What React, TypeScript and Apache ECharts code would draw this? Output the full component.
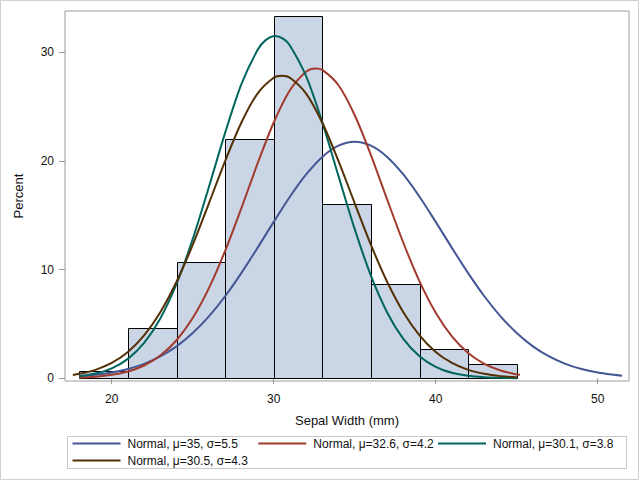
import React, { useEffect, useRef } from "react";
import * as echarts from "echarts";

const binStarts = [18, 21, 24, 27, 30, 33, 36, 39, 42];
const binWidth = 3;
const binPercents = [0.67, 4.67, 10.67, 22.0, 33.33, 16.0, 8.67, 2.67, 1.33];

const xTicks = [20, 30, 40, 50];
const yTicks = [0, 10, 20, 30];

const names = [
  "Normal, μ=35, σ=5.5",
  "Normal, μ=32.6, σ=4.2",
  "Normal, μ=30.1, σ=3.8",
  "Normal, μ=30.5, σ=4.3",
];
const colors = ["#445694", "#A23A2E", "#01665E", "#543005"];

const blueX = [18, 19, 20, 21, 22, 23, 24, 25, 26, 27, 28, 29, 30, 31, 32, 33, 34, 35, 36, 37, 38, 39, 40, 41, 42, 43, 44, 45, 46, 47, 48, 49, 50, 51, 51.5];
const blueY = [0.18, 0.32, 0.53, 0.85, 1.33, 2.01, 2.94, 4.17, 5.7, 7.55, 9.68, 12.0, 14.39, 16.7, 18.75, 20.37, 21.4, 21.76, 21.4, 20.37, 18.75, 16.7, 14.39, 12.0, 9.68, 7.55, 5.7, 4.17, 2.94, 2.01, 1.33, 0.85, 0.53, 0.32, 0.24];

const redX = [18, 19, 20, 21, 22, 23, 24, 25, 26, 27, 28, 29, 30, 31, 32, 32.6, 33, 34, 35, 36, 37, 38, 39, 40, 41, 42, 43, 44, 45, 45.2];
const redY = [0.07, 0.15, 0.32, 0.63, 1.18, 2.09, 3.5, 5.54, 8.29, 11.72, 15.64, 19.74, 23.53, 26.5, 28.21, 28.5, 28.37, 26.96, 24.2, 20.54, 16.46, 12.47, 8.92, 6.04, 3.86, 2.33, 1.33, 0.72, 0.36, 0.32];

const greenX = [18, 19, 20, 21, 22, 23, 24, 25, 26, 27, 28, 29, 29.5, 30.1, 30.6, 31, 32, 33, 34, 35, 36, 37, 38, 39, 40, 41, 42, 43, 44, 45];
const greenY = [0.2, 0.44, 0.92, 1.79, 3.25, 5.5, 8.68, 12.8, 17.6, 22.58, 27.04, 30.2, 31.11, 31.5, 31.23, 30.62, 27.79, 23.54, 18.6, 13.72, 9.44, 6.06, 3.63, 2.03, 1.06, 0.51, 0.23, 0.1, 0.04, 0.01];

const brownX = [17.6, 18, 19, 20, 21, 22, 23, 24, 25, 26, 27, 28, 29, 30, 30.5, 31, 32, 33, 34, 35, 36, 37, 38, 39, 40, 41, 42, 43, 44, 45];
const brownY = [0.31, 0.41, 0.78, 1.41, 2.42, 3.95, 6.08, 8.88, 12.28, 16.1, 19.98, 23.51, 26.19, 27.65, 27.83, 27.65, 26.19, 23.51, 19.98, 16.1, 12.28, 8.88, 6.08, 3.95, 2.42, 1.41, 0.78, 0.41, 0.2, 0.09];

const curveXs = [blueX, redX, greenX, brownX];
const curveYs = [blueY, redY, greenY, brownY];

const FONT = "'Liberation Sans', Arial, sans-serif";

export default function App() {
  const ref = useRef<HTMLDivElement>(null);
  useEffect(() => {
    if (!ref.current) return;
    const chart = echarts.init(ref.current, undefined, { renderer: "svg" });
    const legendTextWidths = [126.8, 120.7, undefined, undefined];
    const option: any = {
      animation: false,
      backgroundColor: "#ffffff",
      textStyle: { fontFamily: FONT },
      grid: {
        left: 65,
        right: 11,
        top: 11,
        bottom: 112,
        show: true,
        borderColor: "#9a9a9a",
        borderWidth: 1,
        backgroundColor: "transparent",
      },
      xAxis: {
        type: "value",
        min: 17.117,
        max: 51.93,
        name: "Sepal Width (mm)",
        nameLocation: "middle",
        nameGap: 33,
        nameTextStyle: { fontSize: 13, color: "#111", fontFamily: FONT },
        axisLine: { show: false },
        axisTick: { show: true, length: 6, lineStyle: { color: "#9a9a9a" }, customValues: xTicks },
        axisLabel: { fontSize: 12, color: "#111", margin: 12, fontFamily: FONT, customValues: xTicks },
        splitLine: { show: false },
      },
      yAxis: {
        type: "value",
        min: -0.248,
        max: 33.79,
        name: "Percent",
        nameLocation: "middle",
        nameGap: 40,
        nameTextStyle: { fontSize: 13, color: "#111", fontFamily: FONT },
        axisLine: { show: false },
        axisTick: { show: true, length: 6, lineStyle: { color: "#9a9a9a" }, customValues: yTicks },
        axisLabel: { fontSize: 12, color: "#111", margin: 11, fontFamily: FONT, customValues: yTicks },
        splitLine: { show: false },
      },
      legend: {
        left: 72.5,
        top: 437,
        width: 555,
        padding: 0,
        itemGap: 4,
        itemWidth: 48,
        itemHeight: 2,
        icon: "rect",
        textStyle: { fontSize: 12, color: "#111", fontFamily: FONT, lineHeight: 13, padding: [0, 0, 0, 2] },
        data: names.map((n, i) =>
          legendTextWidths[i] != null
            ? { name: n, textStyle: { width: legendTextWidths[i] } }
            : { name: n }
        ),
      },
      graphic: [
        {
          type: "rect",
          silent: true,
          shape: { x: 0.5, y: 0.5, width: 638, height: 479 },
          style: { fill: "none", stroke: "#d0d0d0", lineWidth: 1 },
        },
        {
          type: "rect",
          silent: true,
          shape: { x: 67.5, y: 436.5, width: 559, height: 32 },
          style: { fill: "none", stroke: "#c8c8c8", lineWidth: 1 },
        },
      ],
      series: [
        {
          type: "custom",
          name: "hist",
          renderItem: (params: any, api: any) => {
            const x0 = api.value(0);
            const x1 = api.value(1);
            const y = api.value(2);
            const p0 = api.coord([x0, y]);
            const p1 = api.coord([x1, 0]);
            return {
              type: "rect",
              shape: {
                x: Math.round(p0[0]) + 0.5,
                y: Math.round(p0[1]) + 0.5,
                width: Math.round(p1[0]) - Math.round(p0[0]),
                height: Math.round(p1[1]) - Math.round(p0[1]),
              },
              style: { fill: "#CAD5E5", stroke: "#000000", lineWidth: 1 },
            };
          },
          encode: { x: [0, 1], y: 2 },
          data: binStarts.map((s, i) => [s, s + binWidth, binPercents[i]]),
          z: 1,
        },
        ...names.map((n, i) => ({
          type: "line",
          name: n,
          data: curveXs[i].map((x, j) => [x, curveYs[i][j]]),
          showSymbol: false,
          symbol: "none",
          smooth: 0.3,
          lineStyle: { width: 2, color: colors[i] },
          itemStyle: { color: colors[i] },
          z: 3,
        })),
      ],
    };
    chart.setOption(option);
    return () => chart.dispose();
  }, []);
  return (
    <div
      ref={ref}
      style={{ position: "absolute", left: 0, top: 0, width: 640, height: 493, background: "#fff" }}
    />
  );
}
